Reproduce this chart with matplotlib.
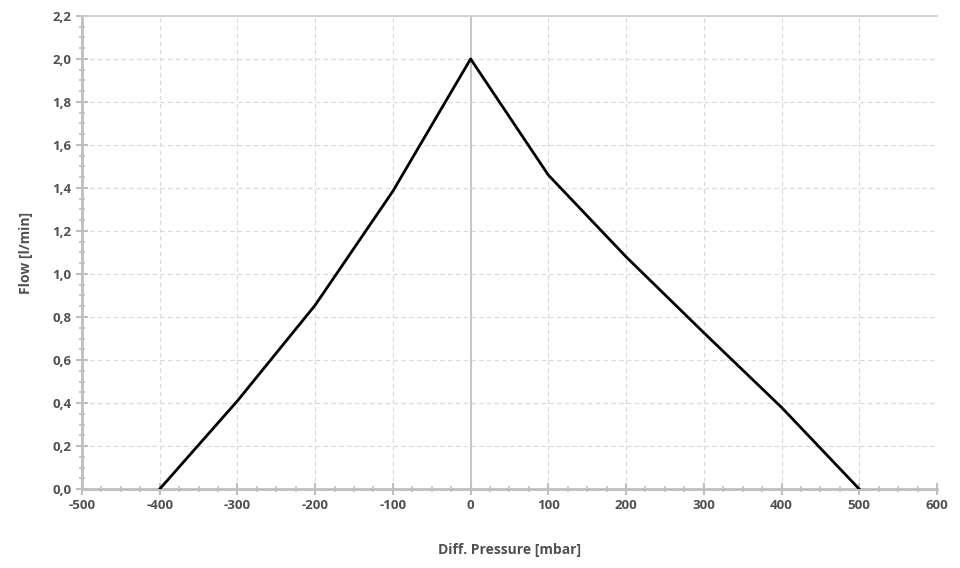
import matplotlib
matplotlib.use('Agg')
import matplotlib.pyplot as plt
from matplotlib.ticker import MultipleLocator, FuncFormatter

# Flow vs differential pressure
pressure = [-400, -300, -200, -100, 0, 100, 200, 300, 400, 500]
flow = [0.0, 0.41, 0.855, 1.385, 2.0, 1.46, 1.08, 0.727, 0.38, 0.0]

GRAY = '#bfbfbf'
TEXT = '#505050'

plt.rcParams['font.family'] = ['Open Sans', 'DejaVu Sans']
plt.rcParams['axes.unicode_minus'] = False

fig = plt.figure(figsize=(9.6, 5.68), dpi=100)
ax = fig.add_axes([0.0854, 0.139, 0.8906, 0.833])

ax.plot(pressure, flow, color='black', linewidth=2, zorder=3)
ax.axvline(0, color=GRAY, linewidth=1.2, zorder=2)

ax.set_xlim(-500, 600)
ax.set_ylim(0, 2.2)
ax.xaxis.set_major_locator(MultipleLocator(100))
ax.xaxis.set_minor_locator(MultipleLocator(25))
ax.yaxis.set_major_locator(MultipleLocator(0.2))
ax.yaxis.set_minor_locator(MultipleLocator(0.05))
ax.yaxis.set_major_formatter(FuncFormatter(lambda v, p: f'{v:.1f}'.replace('.', ',')))

ax.grid(True, which='major', color='#d9d9d9', linestyle=(0, (4, 3)), linewidth=0.8)
ax.set_axisbelow(True)

ax.spines['right'].set_visible(False)
ax.spines['top'].set_color('#d0d0d0')
ax.spines['top'].set_linewidth(1.2)
for s in ['left', 'bottom']:
    ax.spines[s].set_color(GRAY)
    ax.spines[s].set_linewidth(2)

ax.tick_params(which='major', direction='inout', length=8, width=1.5, color=GRAY,
               labelcolor=TEXT, labelsize=9.5)
ax.tick_params(which='minor', direction='inout', length=5, width=1.2, color=GRAY)
for lbl in ax.get_xticklabels() + ax.get_yticklabels():
    lbl.set_fontweight('bold')

ax.set_xlabel('Diff. Pressure [mbar]', fontsize=10, fontweight='bold', color=TEXT, labelpad=22)
ax.set_ylabel('Flow [l/min]', fontsize=10, fontweight='bold', color=TEXT, labelpad=14)

fig.savefig('out.png', dpi=100, facecolor='white')
